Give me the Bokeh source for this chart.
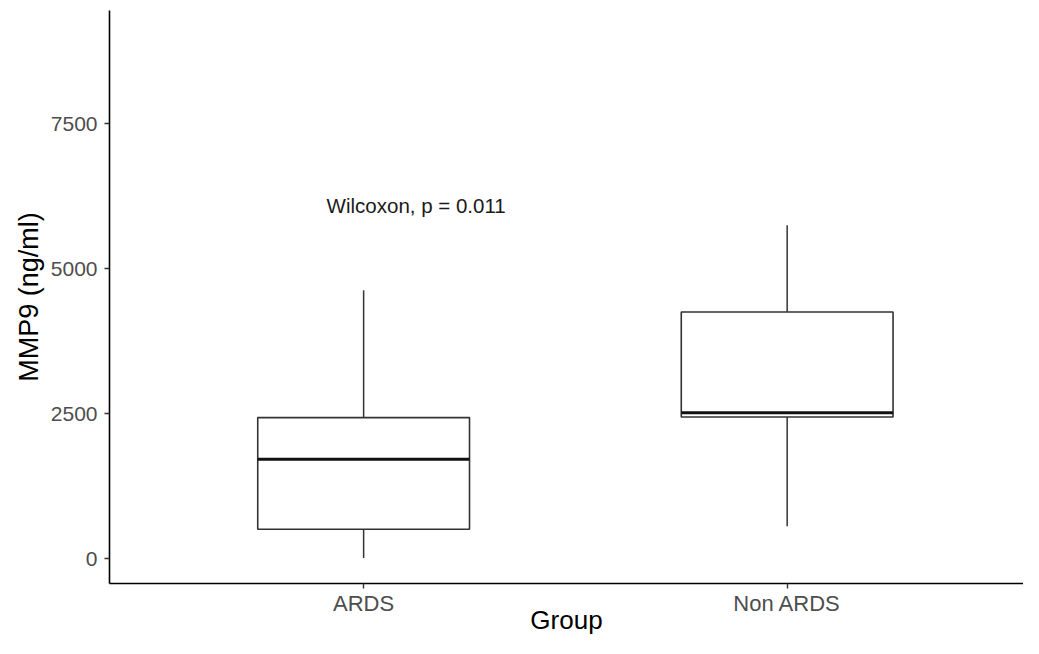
from bokeh.plotting import figure
from bokeh.models import ColumnDataSource, Range1d, FixedTicker
from bokeh.core.properties import value
from bokeh.embed import file_html
from bokeh.resources import INLINE

# ---- data ----
groups = ["ARDS", "Non ARDS"]
whisker_low = [10, 557]
q1 = [505, 2441]
median = [1712, 2514]
q3 = [2431, 4252]
whisker_high = [4626, 5747]
y_ticks = [0, 2500, 5000, 7500]
label_text = ["Wilcoxon, p = 0.011"]
label_group = ["ARDS"]
label_y = [6090]

FONT = "Liberation Sans"
BOX_WIDTH = 0.5

# discrete scale: groups placed at positions 1, 2, ... (as ggplot does)
pos = {g: i + 1 for i, g in enumerate(groups)}
gx = [pos[g] for g in groups]

src = ColumnDataSource(dict(
    x=gx, left=[v - BOX_WIDTH / 2 for v in gx], right=[v + BOX_WIDTH / 2 for v in gx],
    lo=whisker_low, q1=q1, med=median, q3=q3, hi=whisker_high))

p = figure(width=1023, height=638, output_backend="svg", toolbar_location=None,
           x_range=Range1d(0.4, 2.558), y_range=Range1d(-431, 9453),
           min_border_left=109, min_border_right=0, min_border_top=10,
           min_border_bottom=55)

# whiskers
p.segment(x0="x", x1="x", y0="q3", y1="hi", source=src, line_color="#333333", line_width=1.5)
p.segment(x0="x", x1="x", y0="lo", y1="q1", source=src, line_color="#333333", line_width=1.5)
# boxes
p.quad(left="left", right="right", bottom="q1", top="q3", source=src, fill_color="white",
       line_color="#333333", line_width=1.6)
# medians
p.segment(x0="left", x1="right", y0="med", y1="med", source=src,
          line_color="#111111", line_width=2.8)

# annotation
lab = ColumnDataSource(dict(x=[pos[g] for g in label_group], y=label_y, t=label_text))
p.text(x="x", y="y", text="t", source=lab, x_offset=-37, text_align="left",
       text_baseline="middle", text_font=value(FONT), text_font_size="20.5px",
       text_color="#1a1a1a")

# styling (ggplot theme_classic look)
p.xgrid.visible = False
p.ygrid.visible = False
p.outline_line_color = None
p.background_fill_color = "white"
p.border_fill_color = "white"

p.yaxis.ticker = FixedTicker(ticks=y_ticks)
p.xaxis.ticker = FixedTicker(ticks=gx)
p.xaxis.major_label_overrides = {v: g for g, v in pos.items()}
p.xaxis.axis_label = "Group"
p.yaxis.axis_label = "MMP9 (ng/ml)"

for ax in (p.xaxis, p.yaxis):
    ax.axis_line_color = "black"
    ax.axis_line_width = 1.6
    ax.major_tick_line_color = "#333333"
    ax.major_tick_line_width = 1.4
    ax.major_tick_out = 5
    ax.major_tick_in = 0
    ax.minor_tick_line_color = None
    ax.major_label_text_font = FONT
    ax.major_label_text_color = "#4d4d4d"
    ax.axis_label_text_font = FONT
    ax.axis_label_text_font_style = "normal"
    ax.axis_label_text_color = "black"

p.yaxis.major_label_text_font_size = "21px"
p.xaxis.major_label_text_font_size = "22px"
p.yaxis.axis_label_text_font_size = "27px"
p.xaxis.axis_label_text_font_size = "26px"

p.xaxis.major_label_standoff = 2
p.xaxis.axis_label_standoff = -14
p.yaxis.major_label_standoff = 7
p.yaxis.axis_label_standoff = 4

open("out.html", "w").write(file_html(p, INLINE))
